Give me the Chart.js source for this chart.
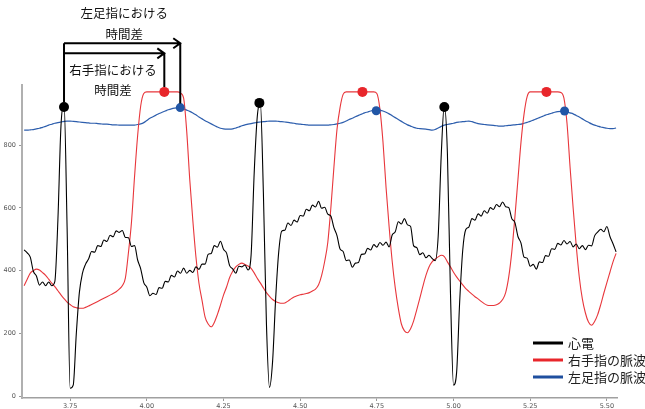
<!DOCTYPE html>
<html>
<head>
<meta charset="utf-8">
<script src="https://cdn.jsdelivr.net/npm/chart.js@4.4.0/dist/chart.umd.min.js"></script>
<style>
  html, body { margin: 0; padding: 0; background: #fff; }
  #wrap { width: 645px; height: 409px; }
</style>
</head>
<body>
<div id="wrap"><canvas id="chart" width="645" height="409"></canvas></div>
<script>
// Sampling grid of the three signals (seconds)
const startTime = 3.60;
const sampleStep = 0.01;

// ECG (心電)
const ecg = [
  466, 457, 443, 398, 383, 354, 364, 352, 364, 352,
  365, 560, 860, 935, 540, 25, 35, 198, 330, 391,
  420, 437, 461, 459, 480, 477, 498, 493, 513, 508,
  527, 522, 528, 506, 505, 477, 480, 434, 406, 362,
  347, 320, 328, 324, 346, 344, 366, 364, 385, 380,
  399, 392, 408, 392, 401, 394, 412, 404, 421, 421,
  452, 455, 480, 475, 494, 468, 456, 416, 406, 392,
  414, 412, 418, 402, 450, 710, 890, 937, 650, 230,
  28, 110, 310, 459, 526, 529, 552, 544, 561, 555,
  576, 574, 596, 591, 609, 603, 621, 599, 602, 580,
  574, 537, 512, 469, 461, 432, 434, 411, 424, 426,
  452, 453, 471, 466, 483, 475, 490, 481, 491, 476,
  514, 524, 556, 549, 566, 546, 541, 479, 474, 451,
  457, 441, 449, 439, 432, 510, 770, 928, 775, 330,
  35, 75, 300, 465, 531, 539, 566, 561, 581, 574,
  591, 583, 601, 595, 611, 604, 619, 604, 601, 566,
  554, 509, 488, 443, 440, 414, 420, 405, 428, 426,
  448, 446, 470, 468, 487, 482, 496, 485, 493, 476,
  485, 470, 480, 467, 481, 479, 511, 523, 532, 524,
  541, 509, 486, 460
];

// right finger pulse wave (右手指の脈波)
const rightFinger = [
  352, 373, 392, 400, 405, 402, 394, 385, 373, 360,
  349, 336, 323, 311, 300, 292, 285, 282, 280, 280,
  283, 287, 292, 297, 302, 307, 312, 317, 322, 327,
  333, 341, 352, 376, 457, 555, 700, 830, 925, 965,
  970, 970, 970, 970, 970, 970, 970, 970, 970, 970,
  970, 966, 950, 845, 690, 560, 445, 360, 305, 252,
  230, 221, 235, 260, 290, 322, 348, 378, 398, 412,
  420, 424, 420, 415, 407, 393, 376, 361, 345, 330,
  318, 308, 302, 298, 296, 297, 303, 310, 316, 320,
  323, 325, 327, 330, 335, 341, 355, 385, 430, 490,
  600, 730, 850, 920, 962, 970, 970, 970, 970, 970,
  970, 970, 970, 970, 970, 965, 915, 810, 665, 540,
  430, 345, 280, 230, 208, 202, 215, 240, 275, 312,
  350, 385, 412, 428, 437, 444, 449, 445, 428, 412,
  395, 380, 367, 355, 343, 334, 325, 317, 310, 302,
  295, 290, 289, 289, 291, 297, 308, 330, 380, 460,
  570, 690, 810, 900, 955, 970, 970, 970, 970, 970,
  970, 970, 970, 970, 970, 968, 950, 870, 730, 600,
  480, 380, 310, 265, 236, 226, 238, 260, 292, 328,
  362, 395, 428, 455
];

// left toe pulse wave (左足指の脈波)
const leftToe = [
  848, 848, 849, 850, 852, 854, 857, 860, 864, 867,
  870, 872, 874, 876, 877, 877, 876, 875, 874, 873,
  872, 871, 870, 870, 869, 868, 867, 867, 866, 865,
  865, 864, 864, 864, 864, 864, 864, 866, 868, 872,
  879, 886, 891, 896, 901, 905, 909, 913, 916, 918,
  919, 918, 916, 912, 908, 903, 897, 890, 884, 878,
  873, 868, 863, 858, 854, 852, 851, 851, 852, 855,
  858, 862, 865, 867, 869, 871, 873, 874, 875, 876,
  877, 877, 877, 876, 875, 874, 873, 871, 870, 868,
  867, 866, 865, 864, 864, 864, 864, 864, 864, 864,
  865, 866, 868, 870, 873, 877, 882, 886, 891, 895,
  899, 903, 906, 909, 911, 912, 911, 909, 905, 900,
  894, 888, 882, 876, 870, 865, 861, 857, 854, 853,
  852, 851, 850, 848, 850, 855, 860, 864, 866, 868,
  870, 873, 874, 875, 876, 877, 875, 872, 869, 867,
  866, 865, 864, 863, 862, 861, 861, 862, 863, 864,
  865, 866, 867, 870, 873, 876, 880, 884, 888, 892,
  896, 899, 902, 905, 907, 908, 908, 906, 903, 900,
  895, 890, 884, 878, 873, 868, 864, 861, 858, 856,
  854, 853, 853, 855
];

// marked peaks [time, value]
const ecgPeaks = [[3.730, 922], [4.367, 935], [4.970, 922]];
const rightPeaks = [[4.057, 970], [4.703, 970], [5.303, 970]];
const leftPeaks = [[4.109, 920], [4.748, 910], [5.362, 909]];

const seriesLabels = ['心電', '右手指の脈波', '左足指の脈波'];
const xTicks = [3.75, 4.00, 4.25, 4.50, 4.75, 5.00, 5.25, 5.50];
const yTicks = [0, 200, 400, 600, 800];

// annotation texts
const leftToeNote = ['左足指における', '時間差'];
const rightFingerNote = ['右手指における', '時間差'];

const colors = { ecg: '#000000', right: '#e8363b', left: '#2d5ead' };

const times = ecg.map((_, i) => startTime + i * sampleStep);
const toPoints = arr => arr.map((v, i) => ({ x: times[i], y: v }));
const peakPoints = arr => arr.map(p => ({ x: p[0], y: p[1] }));

const lineStyle = {
  type: 'line',
  borderWidth: 1.1,
  pointRadius: 0,
  fill: false,
  cubicInterpolationMode: 'monotone'
};

const dotStyle = {
  type: 'line',
  showLine: false,
  pointRadius: 5,
  pointHoverRadius: 5,
  borderWidth: 0
};

// arrows, texts and legend
const notesPlugin = {
  id: 'notes',
  afterDraw(chart) {
    const { ctx, chartArea } = chart;
    const xs = chart.scales.x, ys = chart.scales.y;
    const px = v => xs.getPixelForValue(v);
    const py = v => ys.getPixelForValue(v);

    ctx.save();
    ctx.strokeStyle = '#000';
    ctx.lineWidth = 2;
    ctx.lineCap = 'butt';

    const xStart = px(ecgPeaks[0][0]);
    const yStart = py(ecgPeaks[0][1]) - 5;
    const upper = py(1125), lower = py(1093);
    const xLeft = px(leftPeaks[0][0]), yLeft = py(leftPeaks[0][1]) - 4;
    const xRight = px(rightPeaks[0][0]), yRight = py(rightPeaks[0][1]) - 5;

    ctx.beginPath();
    ctx.moveTo(xStart, yStart); ctx.lineTo(xStart, upper);
    ctx.moveTo(xStart, upper); ctx.lineTo(xLeft, upper);
    ctx.moveTo(xLeft, upper); ctx.lineTo(xLeft, yLeft);
    ctx.moveTo(xStart, lower); ctx.lineTo(xRight, lower);
    ctx.moveTo(xRight, lower); ctx.lineTo(xRight, yRight);
    // arrow heads
    ctx.moveTo(xLeft - 7, upper - 5); ctx.lineTo(xLeft, upper); ctx.lineTo(xLeft - 7, upper + 5);
    ctx.moveTo(xRight - 7, lower - 5); ctx.lineTo(xRight, lower); ctx.lineTo(xRight - 7, lower + 5);
    ctx.stroke();

    ctx.fillStyle = '#111';
    ctx.font = '12.5px "Noto Sans CJK JP"';
    ctx.textAlign = 'center';
    ctx.textBaseline = 'middle';
    ctx.fillText(leftToeNote[0], px(3.926), py(1221));
    ctx.fillText(leftToeNote[1], px(3.926), py(1155));
    ctx.fillText(rightFingerNote[0], px(3.890), py(1040));
    ctx.fillText(rightFingerNote[1], px(3.890), py(976));

    // legend
    const legendColors = [colors.ecg, '#e8262b', '#1f4f9f'];
    ctx.font = '13px "Noto Sans CJK JP"';
    ctx.textAlign = 'left';
    ctx.lineWidth = 3;
    seriesLabels.forEach((label, i) => {
      const y = chartArea.bottom - 55 + i * 17;
      ctx.strokeStyle = legendColors[i];
      ctx.beginPath();
      ctx.moveTo(chartArea.right - 84, y);
      ctx.lineTo(chartArea.right - 54, y);
      ctx.stroke();
      ctx.fillStyle = '#222';
      ctx.fillText(label, chartArea.right - 49, y);
    });
    ctx.restore();
  }
};

new Chart(document.getElementById('chart'), {
  data: {
    datasets: [
      { ...dotStyle, data: peakPoints(ecgPeaks), pointBackgroundColor: '#000' },
      { ...dotStyle, data: peakPoints(rightPeaks), pointBackgroundColor: '#e8262b' },
      { ...dotStyle, data: peakPoints(leftPeaks), pointBackgroundColor: '#2156a6', pointRadius: 4.5 },
      { ...lineStyle, label: seriesLabels[0], data: toPoints(ecg), borderColor: colors.ecg },
      { ...lineStyle, label: seriesLabels[1], data: toPoints(rightFinger), borderColor: colors.right },
      { ...lineStyle, label: seriesLabels[2], data: toPoints(leftToe), borderColor: colors.left, borderWidth: 1.2 }
    ]
  },
  options: {
    responsive: false,
    animation: false,
    devicePixelRatio: 1,
    layout: { padding: { top: 85, right: 28, left: 0, bottom: 0 } },
    plugins: { legend: { display: false }, tooltip: { enabled: false } },
    scales: {
      x: {
        type: 'linear',
        min: 3.593,
        max: 5.533,
        afterBuildTicks: s => { s.ticks = xTicks.map(v => ({ value: v })); },
        afterFit: s => { s.height = 11; },
        ticks: {
          callback: v => v.toFixed(2),
          font: { size: 6.5, family: 'DejaVu Sans' },
          color: '#555',
          padding: 1,
          maxRotation: 0
        },
        grid: { drawOnChartArea: false, drawTicks: true, tickLength: 3, color: '#999' },
        border: { display: true, color: '#a0a0a0', width: 1.5 }
      },
      y: {
        type: 'linear',
        min: -6,
        max: 992,
        afterBuildTicks: s => { s.ticks = yTicks.map(v => ({ value: v })); },
        afterFit: s => { s.width = 22; },
        ticks: {
          font: { size: 6.5, family: 'DejaVu Sans' },
          color: '#555',
          padding: 3
        },
        grid: { drawOnChartArea: false, drawTicks: true, tickLength: 3, color: '#999' },
        border: { display: true, color: '#b0b0b0', width: 2 }
      }
    }
  },
  plugins: [notesPlugin]
});
</script>
</body>
</html>
